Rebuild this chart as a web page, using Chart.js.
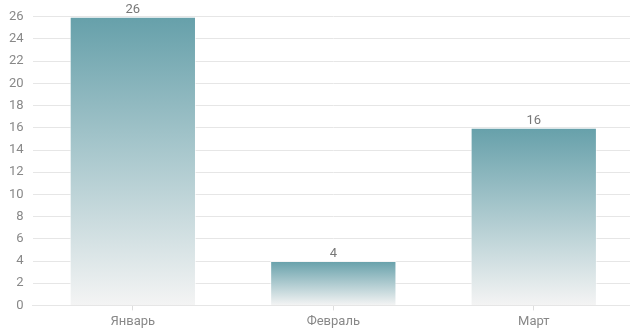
<!DOCTYPE html>
<html>
<head>
<meta charset="utf-8">
<script src="https://cdn.jsdelivr.net/npm/chart.js@4"></script>
<style>
  html, body { margin: 0; padding: 0; background: #fff; overflow: hidden; }
  #wrap { width: 634px; height: 334px; }
</style>
</head>
<body>
<div id="wrap"><canvas id="chart"></canvas></div>
<script>
const months = ['Январь', 'Февраль', 'Март'];
const counts = [26, 4, 16];
const yMax = 26;
const yStep = 2;

// each bar gets its own gradient, teal at the top fading to near white at the base
function barGradient(context) {
  const chart = context.chart;
  const { ctx, chartArea, scales } = chart;
  if (!chartArea) return '#6a9ea8';
  const v = context.raw;
  const top = scales.y.getPixelForValue(v);
  const bottom = scales.y.getPixelForValue(0);
  const g = ctx.createLinearGradient(0, top, 0, bottom);
  g.addColorStop(0, '#66a0aa');
  g.addColorStop(1, '#f4f4f4');
  return g;
}

const valueLabels = {
  id: 'valueLabels',
  afterDatasetsDraw(chart) {
    const ctx = chart.ctx;
    const meta = chart.getDatasetMeta(0);
    ctx.save();
    ctx.font = '13px Roboto';
    ctx.fillStyle = '#777';
    ctx.textAlign = 'center';
    ctx.textBaseline = 'bottom';
    meta.data.forEach((bar, i) => {
      ctx.fillText(counts[i], bar.x, bar.y - 1);
    });
    ctx.restore();
  }
};

new Chart(document.getElementById('chart'), {
  type: 'bar',
  data: {
    labels: months,
    datasets: [{
      data: counts,
      backgroundColor: barGradient,
      borderColor: 'rgba(255,255,255,0.6)',
      borderWidth: 1,
      barPercentage: 0.7,
      categoryPercentage: 0.9
    }]
  },
  options: {
    responsive: true,
    maintainAspectRatio: false,
    animation: false,
    layout: { padding: { top: 11, right: 0, left: 0, bottom: 0 } },
    plugins: {
      legend: { display: false },
      tooltip: { enabled: false }
    },
    scales: {
      y: {
        min: 0,
        max: yMax,
        ticks: { stepSize: yStep, color: '#888', font: { family: 'Roboto', size: 13 }, padding: 9 },
        grid: { color: '#e6e6e6', drawTicks: false },
        border: { display: false }
      },
      x: {
        ticks: { color: '#888', font: { family: 'Roboto', size: 13 }, padding: 4 },
        grid: { drawOnChartArea: false, offset: false, color: '#ddd', tickLength: 5 },
        border: { display: true, color: '#e6e6e6' }
      }
    }
  },
  plugins: [valueLabels]
});
</script>
</body>
</html>
